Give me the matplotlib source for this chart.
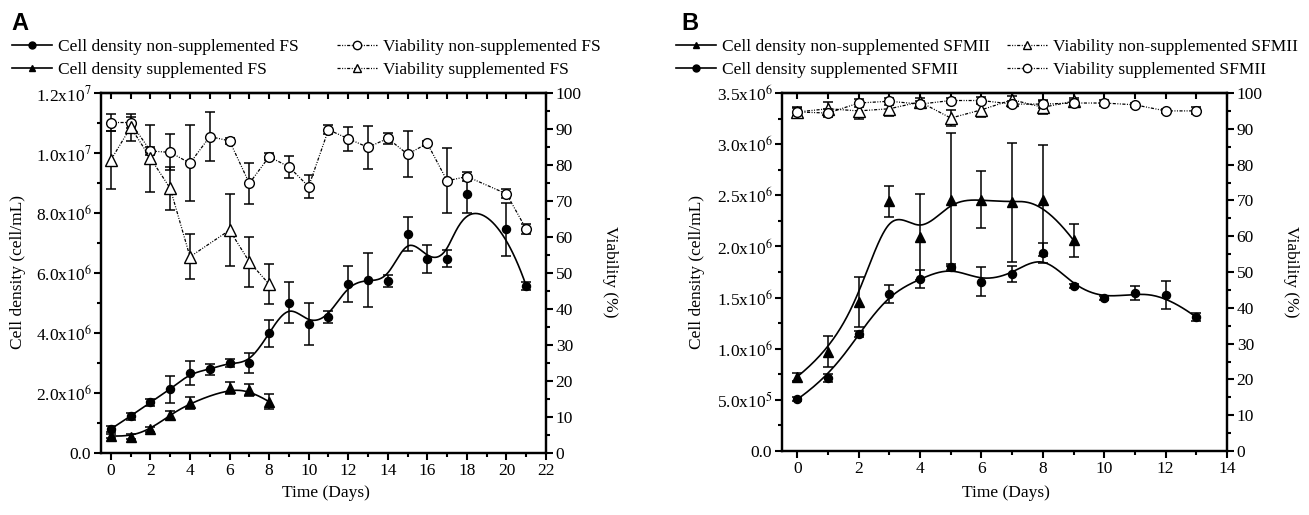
import numpy as np
import matplotlib
matplotlib.use("Agg")
import matplotlib.pyplot as plt
from matplotlib.lines import Line2D
from matplotlib.ticker import MultipleLocator, FuncFormatter

plt.rcParams['font.family'] = ['Liberation Serif', 'DejaVu Serif']
plt.rcParams['mathtext.fontset'] = 'stix'

# ---------------- Panel A data (FS medium) ----------------
days_A_non = [0, 1, 2, 3, 4, 5, 6, 7, 8, 9, 10, 11, 12, 13, 14, 15, 16, 17, 18, 20, 21]
dens_A_non = [0.80, 1.23, 1.69, 2.12, 2.66, 2.79, 3.01, 2.99, 3.99, 5.01, 4.30,
              4.52, 5.63, 5.77, 5.74, 7.29, 6.46, 6.48, 8.63, 7.46, 5.57]  # x1e6
dens_A_non_err = [0.10, 0.12, 0.12, 0.45, 0.40, 0.18, 0.13, 0.33, 0.45, 0.68, 0.70,
                  0.20, 0.59, 0.91, 0.20, 0.57, 0.47, 0.29, 0.64, 0.89, 0.12]
viab_A_non = [91.8, 91.8, 83.9, 83.5, 80.5, 87.9, 86.7, 74.9, 82.3, 79.5, 74.0,
              89.8, 87.3, 84.9, 87.4, 83.0, 86.0, 75.6, 76.8, 72.0, 62.2]
viab_A_non_err = [2.3, 1.5, 1.0, 5.0, 10.5, 6.7, 0.8, 5.6, 1.0, 3.0, 3.3,
                  1.3, 3.3, 6.0, 1.5, 6.4, 0.7, 9.0, 1.2, 1.2, 1.5]

days_A_sup = [0, 1, 2, 3, 4, 6, 7, 8]
dens_A_sup = [0.57, 0.54, 0.79, 1.27, 1.66, 2.16, 2.10, 1.71]  # x1e6
dens_A_sup_err = [0.08, 0.08, 0.08, 0.12, 0.20, 0.20, 0.20, 0.25]
viab_A_sup = [81.4, 90.5, 81.9, 73.5, 54.5, 61.9, 53.1, 46.9]
viab_A_sup_err = [8.0, 3.8, 9.3, 6.0, 6.2, 10.0, 7.0, 5.6]

# ---------------- Panel B data (SFMII medium) ----------------
days_B_non = [0, 1, 2, 3, 4, 5, 6, 7, 8, 9]
dens_B_non = [0.727, 0.97, 1.46, 2.44, 2.09, 2.456, 2.456, 2.43, 2.45, 2.06]  # x1e6
dens_B_non_err = [0.04, 0.15, 0.245, 0.15, 0.42, 0.65, 0.28, 0.58, 0.54, 0.16]
viab_B_non = [94.7, 95.6, 95.0, 95.6, 97.5, 93.0, 95.3, 98.1, 96.0, 97.7]
viab_B_non_err = [1.0, 2.0, 2.3, 2.0, 1.0, 2.3, 2.0, 1.0, 2.0, 1.0]

days_B_sup = [0, 1, 2, 3, 4, 5, 6, 7, 8, 9, 10, 11, 12, 13]
dens_B_sup = [0.506, 0.717, 1.145, 1.536, 1.683, 1.803, 1.657, 1.729, 1.934,
              1.61, 1.494, 1.543, 1.526, 1.308]  # x1e6
dens_B_sup_err = [0.02, 0.04, 0.03, 0.09, 0.09, 0.03, 0.14, 0.08, 0.10,
                  0.02, 0.02, 0.07, 0.14, 0.04]
viab_B_sup = [94.7, 94.4, 97.2, 97.7, 96.9, 97.9, 97.9, 96.9, 96.9, 97.2, 97.2, 96.7, 95.0, 95.0]
viab_B_sup_err = [1.4, 1.0, 1.0, 1.0, 0.8, 0.8, 1.0, 0.8, 1.0, 0.8, 0.8, 0.6, 0.6, 1.0]

DOT = (0, (2.5, 1.2, 0.8, 1.2, 0.8, 1.2))  # dash-dot-dot, like Origin
FS = 12.5


def bspline(xs, ys, num=400):
    # clamped cubic B-spline with the data points as control points
    pts = np.column_stack([xs, ys]).astype(float)
    n = len(pts)
    k = 3
    kv = np.concatenate([np.zeros(k), np.arange(n - k + 1), np.full(k, n - k)]).astype(float)
    t = np.linspace(0, n - k, num)
    t[-1] -= 1e-9
    N = np.array([(kv[i] <= t) & (t < kv[i + 1]) for i in range(len(kv) - 1)], float)
    for p in range(1, k + 1):
        Nn = np.zeros((len(kv) - 1 - p, num))
        for i in range(len(kv) - 1 - p):
            d1 = kv[i + p] - kv[i]
            d2 = kv[i + p + 1] - kv[i + 1]
            a = (t - kv[i]) / d1 * N[i] if d1 > 0 else 0
            b = (kv[i + p + 1] - t) / d2 * N[i + 1] if d2 > 0 else 0
            Nn[i] = a + b
        N = Nn
    c = N.T @ pts
    return c[:, 0], c[:, 1]


def sci(v, pos):
    if abs(v) < 1e-9:
        return '0.0'
    if v < 0:
        return ''
    e = int(np.floor(np.log10(v) + 1e-9))
    m = v / 10 ** e
    return f'{m:.1f}x10$^{{{e}}}$'


def density(ax, x, y, err, marker, ms):
    y = np.array(y) * 1e6
    err = np.array(err) * 1e6
    sx, sy = bspline(x, y)
    ax.plot(sx, sy, color='k', lw=1.2, zorder=2)
    ax.errorbar(x, y, yerr=err, fmt='none', ecolor='k', elinewidth=1.1,
                capsize=3.5, capthick=1.1, zorder=3)
    ax.plot(x, y, ls='none', marker=marker, ms=ms, color='k', zorder=4)


def viability(ax, x, y, err, marker, ms):
    ax.errorbar(x, y, yerr=err, fmt='none', ecolor='k', elinewidth=1.1,
                capsize=3.5, capthick=1.1, zorder=3)
    ax.plot(x, y, ls=DOT, lw=0.9, color='k', marker=marker, ms=ms,
            mfc='white', mec='k', mew=1.0, zorder=4)


def style_axes(ax, ax2, xmax, xmajor, ymax, ymajor, yminor):
    ax.set_xlim(-0.5, xmax)
    ax.set_ylim(0, ymax)
    ax2.set_ylim(0, 100)
    for a in (ax, ax2):
        for s in a.spines.values():
            s.set_linewidth(1.6)
    ax.xaxis.set_major_locator(MultipleLocator(xmajor))
    ax.xaxis.set_minor_locator(MultipleLocator(1))
    ax.yaxis.set_major_locator(MultipleLocator(ymajor))
    ax.yaxis.set_minor_locator(MultipleLocator(yminor))
    ax.yaxis.set_major_formatter(FuncFormatter(sci))
    ax2.yaxis.set_major_locator(MultipleLocator(10))
    ax2.yaxis.set_minor_locator(MultipleLocator(5))
    ax.tick_params(which='major', direction='out', length=5, width=1.5, labelsize=FS, pad=2)
    ax.tick_params(which='minor', direction='out', length=3, width=1.5)
    ax2.tick_params(which='major', direction='out', length=5, width=1.5, labelsize=FS, pad=2)
    ax2.tick_params(which='minor', direction='out', length=3, width=1.5)
    top = ax.secondary_xaxis('top')
    top.xaxis.set_major_locator(MultipleLocator(xmajor))
    top.xaxis.set_minor_locator(MultipleLocator(1))
    top.tick_params(which='both', direction='in', length=4, width=1.5, labeltop=False)
    top.spines['top'].set_linewidth(1.6)


fig = plt.figure(figsize=(13.09, 5.15), dpi=100)
W, H = 1309, 515

# ---------------- Panel A ----------------
axA = fig.add_axes([101 / W, 1 - 453 / H, 445 / W, 360 / H])
axA2 = axA.twinx()
density(axA, days_A_non, dens_A_non, dens_A_non_err, 'o', 5.8)
density(axA, days_A_sup, dens_A_sup, dens_A_sup_err, '^', 6.5)
viability(axA2, days_A_non, viab_A_non, viab_A_non_err, 'o', 7)
viability(axA2, days_A_sup, viab_A_sup, viab_A_sup_err, '^', 8)
style_axes(axA, axA2, 22, 2, 1.2e7, 2e6, 1e6)

# ---------------- Panel B ----------------
axB = fig.add_axes([782 / W, 1 - 451 / H, 445 / W, 358 / H])
axB2 = axB.twinx()
density(axB, days_B_non, dens_B_non, dens_B_non_err, '^', 6.5)
density(axB, days_B_sup, dens_B_sup, dens_B_sup_err, 'o', 5.8)
viability(axB2, days_B_non, viab_B_non, viab_B_non_err, '^', 8)
viability(axB2, days_B_sup, viab_B_sup, viab_B_sup_err, 'o', 7)
style_axes(axB, axB2, 14, 2, 3.5e6, 5e5, 2.5e5)

# ---------------- Axis titles ----------------
lab = dict(fontsize=FS, ha='center', va='center')
fig.text(18 / W, 1 - 272 / H, 'Cell density (cell/mL)', rotation=90, **lab)
fig.text(610 / W, 1 - 272 / H, 'Viability (%)', rotation=270, **lab)
fig.text(326 / W, 1 - 493 / H, 'Time (Days)', **lab)
fig.text(697 / W, 1 - 272 / H, 'Cell density (cell/mL)', rotation=90, **lab)
fig.text(1291 / W, 1 - 272 / H, 'Viability (%)', rotation=270, **lab)
fig.text(1006 / W, 1 - 493 / H, 'Time (Days)', **lab)

fig.text(11 / W, 1 - 23 / H, 'A', fontsize=17, fontweight='bold',
         family='Liberation Sans', ha='left', va='center')
fig.text(681 / W, 1 - 23 / H, 'B', fontsize=17, fontweight='bold',
         family='Liberation Sans', ha='left', va='center')


# ---------------- Legends ----------------
def h_dens(m):
    return Line2D([], [], color='k', lw=1.2, marker=m, ms=5)


def h_viab(m):
    return Line2D([], [], color='k', lw=0.9, ls=DOT, marker=m, ms=6, mfc='white', mec='k')


leg_kw = dict(loc='upper left', ncol=2, frameon=False, fontsize=FS,
              handlelength=2.3, handletextpad=0.35, labelspacing=0.4,
              borderpad=0, borderaxespad=0)
fig.legend([h_dens('o'), h_dens('^'), h_viab('o'), h_viab('^')],
           ['Cell density non-supplemented FS', 'Cell density supplemented FS',
            'Viability non-supplemented FS', 'Viability supplemented FS'],
           bbox_to_anchor=(12 / W, 1 - 39 / H), columnspacing=2.2, **leg_kw)
fig.legend([h_dens('^'), h_dens('o'), h_viab('^'), h_viab('o')],
           ['Cell density non-supplemented SFMII', 'Cell density supplemented SFMII',
            'Viability non-supplemented SFMII', 'Viability supplemented SFMII'],
           bbox_to_anchor=(676 / W, 1 - 39 / H), columnspacing=1.0, **leg_kw)

fig.savefig('out.png', dpi=100)
